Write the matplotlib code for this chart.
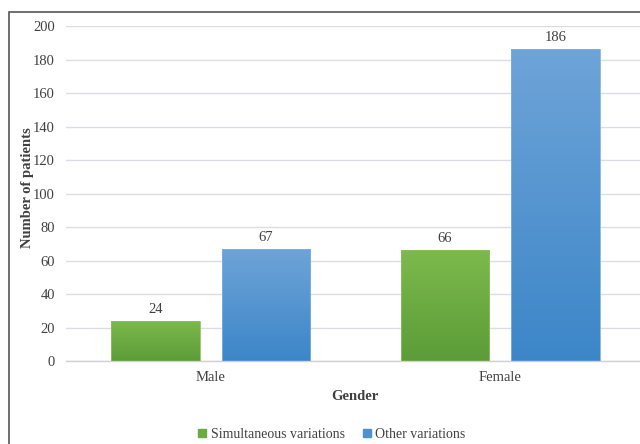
import numpy as np
import matplotlib
matplotlib.use("Agg")
import matplotlib.pyplot as plt
from matplotlib.patches import Rectangle
from matplotlib.colors import LinearSegmentedColormap
from matplotlib.lines import Line2D

categories = ["Male", "Female"]
simultaneous = [24, 66]
other = [67, 186]
series_names = ["Simultaneous variations", "Other variations"]
yticks = [0, 20, 40, 60, 80, 100, 120, 140, 160, 180, 200]

plt.rcParams["font.family"] = ["Liberation Serif", "DejaVu Serif"]
text_color = "#404040"

fig = plt.figure(figsize=(6.4, 4.44), dpi=100)
W, H = 640, 444
ax = fig.add_axes([66 / W, (H - 361) / H, (645 - 66) / W, (361 - 26) / H])

x = np.arange(len(categories))
width = 0.307
offset = 0.191

green_cmap = LinearSegmentedColormap.from_list("g", ["#5c9c38", "#7cba4c"])
blue_cmap = LinearSegmentedColormap.from_list("b", ["#3c86c8", "#6ea4d8"])
grad = np.linspace(0, 1, 256).reshape(-1, 1)

def gradient_bars(xs, vals, cmap, edge):
    bars = ax.bar(xs, vals, width, color="none", edgecolor=edge, linewidth=0.6, zorder=3)
    for b in bars:
        bx, by = b.get_x(), b.get_y()
        bw, bh = b.get_width(), b.get_height()
        im = ax.imshow(grad, cmap=cmap, origin="lower", aspect="auto",
                       extent=(bx, bx + bw, by, by + bh), zorder=2)
        im.set_clip_path(Rectangle((bx, by), bw, bh, transform=ax.transData))
    return bars

b1 = gradient_bars(x - offset, simultaneous, green_cmap, "#8cc060")
b2 = gradient_bars(x + offset, other, blue_cmap, "#7fb0de")

for xs, vals in ((x - offset, simultaneous), (x + offset, other)):
    for xi, v in zip(xs, vals):
        ax.text(xi, v + 3, str(v), ha="center", va="bottom", fontsize=10.5, color=text_color)

ax.set_xlim(-0.5, 1.5)
ax.set_ylim(0, 200)
ax.set_yticks(yticks)
ax.set_yticklabels([str(t) for t in yticks], fontsize=10.5, color=text_color)
ax.set_xticks(x)
ax.set_xticklabels(categories, fontsize=10.5, color=text_color)
ax.tick_params(axis="both", length=0, pad=8)
ax.tick_params(axis="x", pad=7)
ax.grid(axis="y", color="#dcdce4", linewidth=1.0, zorder=0)
ax.set_axisbelow(True)
for s in ("top", "right", "left"):
    ax.spines[s].set_visible(False)
ax.spines["bottom"].set_color("#d0d0d8")
ax.spines["bottom"].set_linewidth(1.0)

fig.text(28 / W, 1 - 188 / H, "Number of patients", rotation=90, ha="center", va="center",
         fontsize=10.5, fontweight="bold", color=text_color)
fig.text(355 / W, 1 - 396 / H, "Gender", ha="center", va="center",
         fontsize=10.5, fontweight="bold", color=text_color)

handles = [Line2D([], [], marker="s", linestyle="none", markersize=6, color="#6aab44"),
           Line2D([], [], marker="s", linestyle="none", markersize=6, color="#4e90d0")]
fig.legend(handles, series_names, loc="center", bbox_to_anchor=(331 / W, 1 - 434 / H),
           ncol=2, frameon=False, fontsize=10, handletextpad=0.2, columnspacing=1.2,
           labelcolor=text_color, handlelength=0.8)

# outer frame around the figure
fig.add_artist(Rectangle((9 / W, -0.1), 1.2, 1 - 12 / H + 0.1, transform=fig.transFigure,
                         fill=False, edgecolor="#555555", linewidth=1.2))

fig.savefig("out.png", dpi=100)
